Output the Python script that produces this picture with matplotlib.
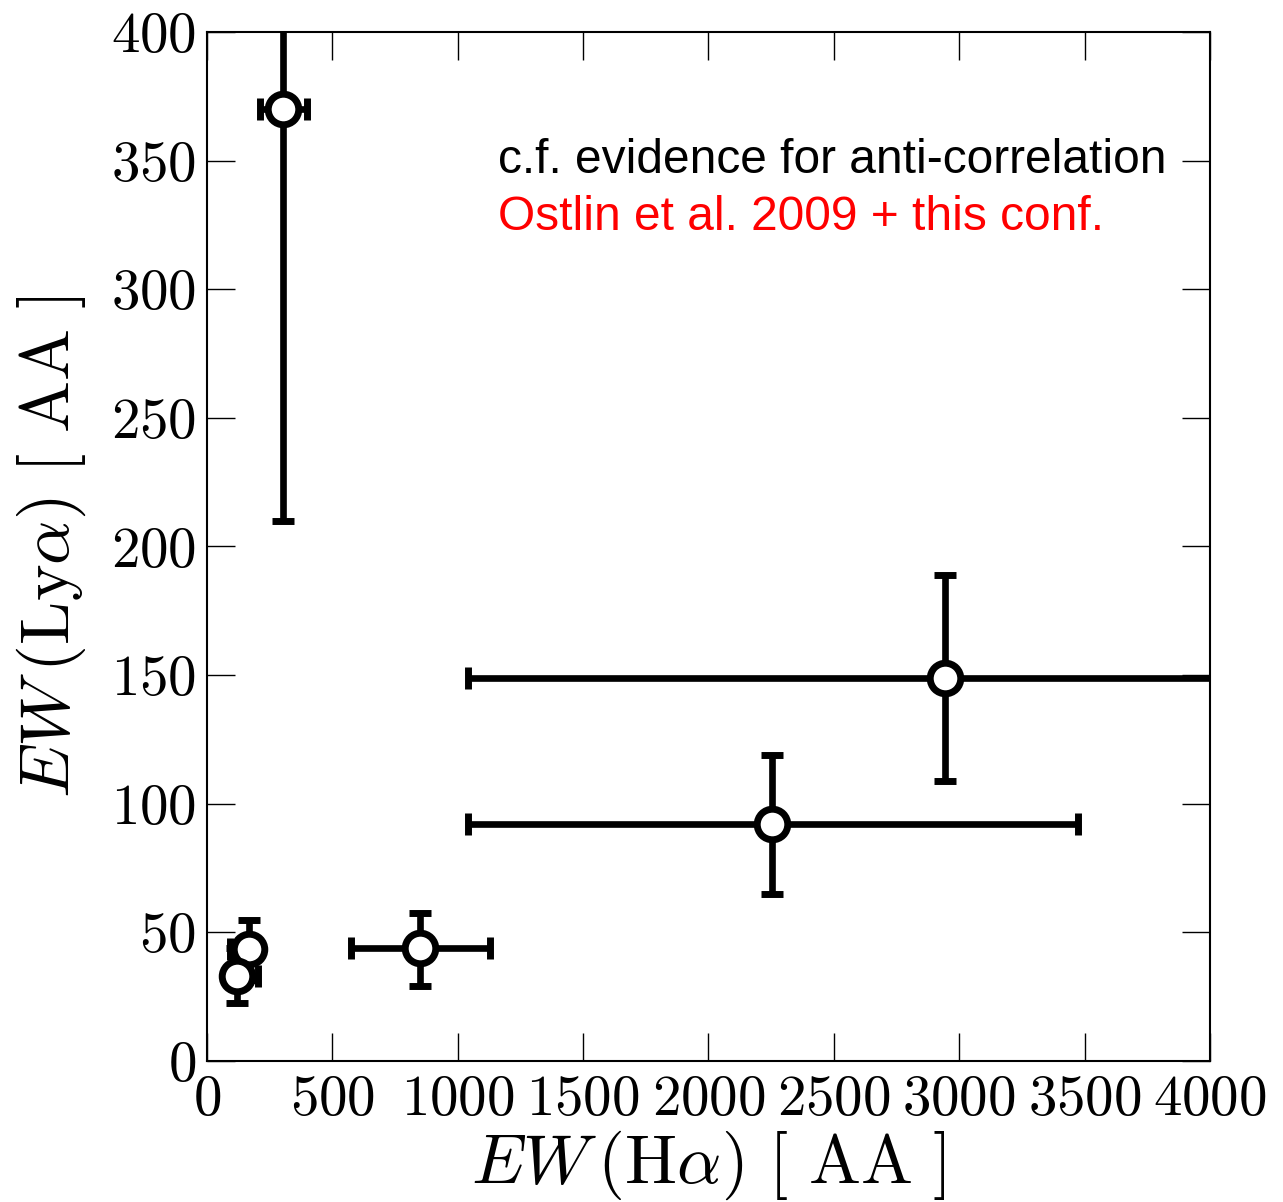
import matplotlib
matplotlib.use("Agg")
import matplotlib.pyplot as plt

# EW(Halpha) vs EW(Lya)
ew_ha = [303, 2943, 2255, 849, 167, 120]
ew_ha_lo = [90, 1900, 1215, 276, 75, 30]
ew_ha_hi = [95, 1900, 1220, 280, 30, 83]
ew_lya = [370, 149, 92, 44, 43.5, 33]
ew_lya_lo = [160, 40, 27, 15, 12, 10.5]
ew_lya_hi = [160, 40, 27, 13.5, 11.5, 11]

x_ticks = [0, 500, 1000, 1500, 2000, 2500, 3000, 3500, 4000]
y_ticks = [0, 50, 100, 150, 200, 250, 300, 350, 400]

plt.rcParams["font.family"] = "serif"
plt.rcParams["font.serif"] = ["cmr10"]
plt.rcParams["mathtext.fontset"] = "cm"
plt.rcParams["axes.formatter.use_mathtext"] = True

fig = plt.figure(figsize=(12.83, 12.02), dpi=100)
ax = fig.add_axes([0.1613, 0.1173, 0.9431 - 0.1613, 0.9734 - 0.1173])

ax.errorbar(ew_ha, ew_lya,
            xerr=[ew_ha_lo, ew_ha_hi], yerr=[ew_lya_lo, ew_lya_hi],
            fmt="o", color="black", ecolor="black", elinewidth=4.8,
            capsize=8, capthick=4, ms=22, mfc="white", mec="black", mew=5,
            zorder=3)

ax.set_xlim(0, 4000)
ax.set_ylim(0, 400)
ax.set_xticks(x_ticks)
ax.set_yticks(y_ticks)
ax.tick_params(direction="in", length=20, width=1, top=True, right=True,
               labelsize=41, pad=8, colors="black")
ax.tick_params(axis="x", pad=10)
for s in ax.spines.values():
    s.set_linewidth(1.5)

ax.set_xlabel(r"$EW\,(\mathrm{H}\alpha)\ [\ \mathrm{AA}\ ]$", fontsize=50, labelpad=2)
ax.set_ylabel(r"$EW\,(\mathrm{Ly}\alpha)\ [\ \mathrm{AA}\ ]$", fontsize=50, labelpad=16)

ax.text(0.290, 0.875, "c.f. evidence for anti-correlation", transform=ax.transAxes,
        fontsize=34.5, family="Liberation Sans", color="black", va="center")
ax.text(0.290, 0.820, "Ostlin et al. 2009 + this conf.", transform=ax.transAxes,
        fontsize=34.5, family="Liberation Sans", color="red", va="center")

fig.savefig("out.png", dpi=100)
